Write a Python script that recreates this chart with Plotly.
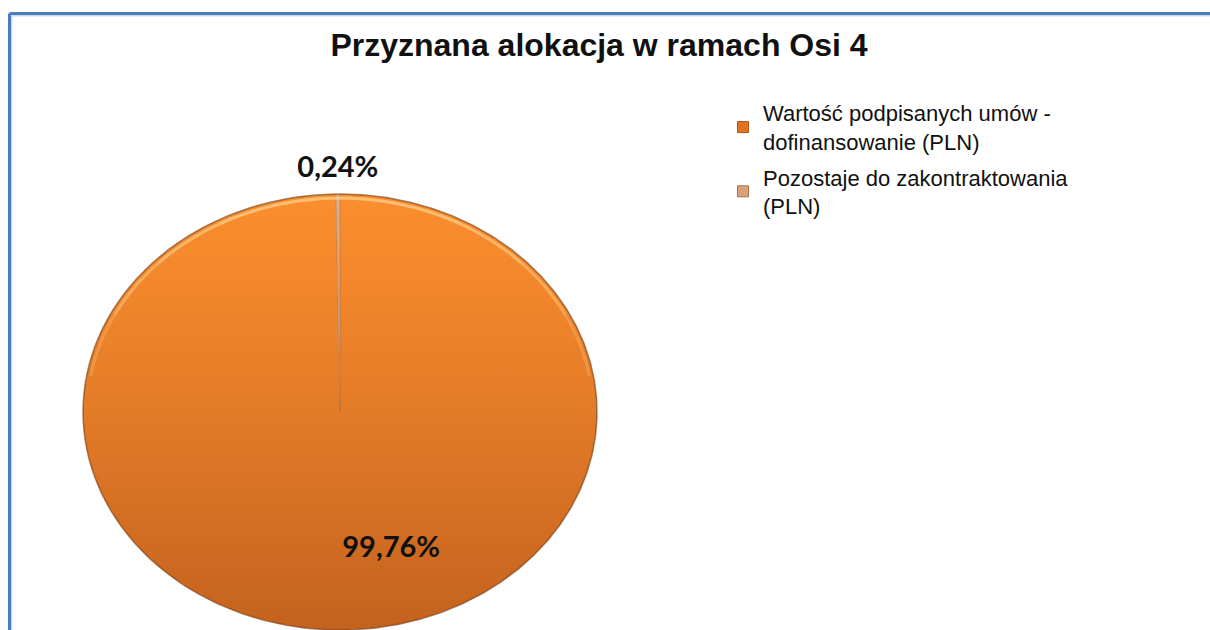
import numpy as np
import plotly.graph_objects as go

# ---- data ----
categories = [
    "Wartość podpisanych umów -<br>dofinansowanie (PLN)",
    "Pozostaje do zakontraktowania<br>(PLN)",
]
shares = [99.76, 0.24]
title_text = "Przyznana alokacja w ramach Osi 4"

# ---- styling / layout constants ----
W, H = 1210, 630
CX, CY, RX, RY = 340.0, 412.0, 257.0, 218.0
grad_scales = [
    [[0.0, "#FB8E2E"], [0.45, "#E67D28"], [1.0, "#C4621E"]],
    [[0.0, "#E2AD80"], [1.0, "#B47A4C"]],
]
legend_colors = [("#E27421", "#A9561A"), ("#D9A27A", "#A8724A")]

fig = go.Figure()

total = float(sum(shares))
start = 0.0
mids = []
for i, v in enumerate(shares):
    frac0 = start / total
    frac1 = (start + v) / total
    start += v
    n = max(3, int(720 * (frac1 - frac0)))
    th = np.linspace(frac0, frac1, n) * 2 * np.pi
    xs = np.concatenate([[CX], CX + RX * np.sin(th), [CX]])
    ys = np.concatenate([[CY], CY - RY * np.cos(th), [CY]])
    fig.add_trace(go.Scatter(
        x=xs, y=ys, mode="lines", fill="toself",
        line=dict(width=0.6, color="rgba(150,110,80,0.5)"),
        fillgradient=dict(type="vertical", colorscale=grad_scales[i],
                          start=CY - RY, stop=CY + RY),
        showlegend=False, hoverinfo="skip",
    ))
    mids.append((frac0 + frac1) / 2 * 2 * np.pi)

# outline with soft shadow
th = np.linspace(0, 2 * np.pi, 721)
fig.add_trace(go.Scatter(
    x=CX + RX * np.sin(th), y=CY - RY * np.cos(th), mode="lines",
    line=dict(width=1.6, color="rgba(120,60,15,0.55)"),
    showlegend=False, hoverinfo="skip",
))
# top bevel highlight (tapered by stacking arcs)
for span in (0.5, 0.8, 1.1, 1.4):
    thh = np.linspace(-span, span, 200)
    fig.add_trace(go.Scatter(
        x=CX + (RX - 4) * np.sin(thh), y=CY - (RY - 4) * np.cos(thh), mode="lines",
        line=dict(width=3, color="rgba(255,210,140,0.28)"),
        showlegend=False, hoverinfo="skip",
    ))

# data labels
label_r = [0.63, 1.11]
label_dx = [50, 0]
for i, v in enumerate(shares):
    lx = CX + label_r[i] * RX * np.sin(mids[i]) + label_dx[i]
    ly = CY - label_r[i] * RY * np.cos(mids[i])
    fig.add_trace(go.Scatter(
        x=[lx], y=[ly], mode="text",
        text=[f"{v:.2f}%".replace(".", ",")],
        textfont=dict(family="Lato", size=29, color="#111111", weight="bold"),
        showlegend=False, hoverinfo="skip",
    ))

# legend entries
for i, name in enumerate(categories):
    fig.add_trace(go.Scatter(
        x=[None], y=[None], mode="markers", name=name,
        legendgroup=f"g{i}",
        marker=dict(symbol="square", size=11, color=legend_colors[i][0],
                    line=dict(color=legend_colors[i][1], width=1)),
    ))

# frame: only left & top edges visible in the reference
for off, col, wdt in ((0.0, "#4A7EBB", 3), (2.3, "#B3CAE6", 1)):
    fig.add_shape(type="line", x0=9.5 + off, y0=13.5 + off, x1=W + 50, y1=13.5 + off,
                  xref="x", yref="y", line=dict(color=col, width=wdt))
    fig.add_shape(type="line", x0=9.5 + off, y0=13.5 + off, x1=9.5 + off, y1=H + 50,
                  xref="x", yref="y", line=dict(color=col, width=wdt))

fig.update_layout(
    width=W, height=H,
    margin=dict(l=0, r=0, t=0, b=0),
    paper_bgcolor="white", plot_bgcolor="white",
    xaxis=dict(range=[0, W], visible=False, fixedrange=True),
    yaxis=dict(range=[H, 0], visible=False, fixedrange=True),
    title=dict(text=title_text, x=599 / W, xanchor="center",
               y=1 - 45 / H, yanchor="middle",
               font=dict(family="Liberation Sans, Arial", size=32,
                         color="#111111", weight="bold")),
    legend=dict(x=723 / W, xanchor="left", y=1 - 92 / H, yanchor="top",
                font=dict(family="Liberation Sans, Arial", size=22, color="#111111"),
                tracegroupgap=4, bgcolor="rgba(0,0,0,0)"),
    showlegend=True,
)

fig.write_html(
    "out.html",
    config={"displayModeBar": False},
    post_script="document.body.style.margin='0';document.body.style.overflow='hidden';",
)
